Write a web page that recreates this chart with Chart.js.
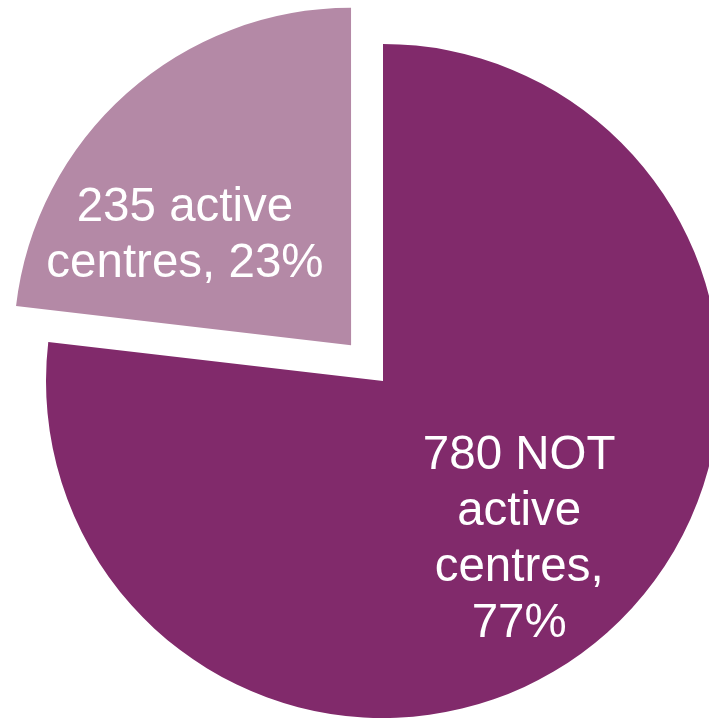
<!DOCTYPE html>
<html>
<head>
<meta charset="utf-8">
<script src="https://cdn.jsdelivr.net/npm/chart.js@4"></script>
<style>
  html, body { margin: 0; padding: 0; background: #fff; overflow: hidden; }
  canvas { display: block; }
</style>
</head>
<body>
<canvas id="pieChart" width="766" height="762"></canvas>
<script>
var categories = ['NOT active centres', 'active centres'];
var centreCounts = [780, 235];
var sliceColors = ['#812a6b', '#b489a6'];

var total = centreCounts.reduce(function (a, b) { return a + b; }, 0);

// draws the text inside each slice, wrapped to a max width
var sliceLabels = {
    id: 'sliceLabels',
    afterDatasetsDraw: function (chart, args, opts) {
        var ctx = chart.ctx;
        var meta = chart.getDatasetMeta(0);
        ctx.save();
        ctx.font = opts.size + 'px "Liberation Sans", Arial, sans-serif';
        ctx.fillStyle = '#fff';
        ctx.textAlign = 'center';
        ctx.textBaseline = 'middle';
        meta.data.forEach(function (arc, i) {
            var pct = Math.round(centreCounts[i] / total * 100);
            var words = (centreCounts[i] + ' ' + categories[i] + ', ' + pct + '%').split(' ');
            var lines = [], line = '';
            words.forEach(function (w) {
                var test = line ? line + ' ' + w : w;
                if (line && ctx.measureText(test).width > opts.maxWidth[i]) {
                    lines.push(line);
                    line = w;
                } else {
                    line = test;
                }
            });
            lines.push(line);

            var half = (arc.startAngle + arc.endAngle) / 2;
            var push = (arc.options.offset || 0) / 4;
            var a = half + opts.angleShift[i] * Math.PI / 180;
            var r = arc.outerRadius * opts.radius[i];
            var cx = arc.x + Math.cos(half) * push + Math.cos(a) * r;
            var cy = arc.y + Math.sin(half) * push + Math.sin(a) * r;
            var top = cy - (lines.length - 1) * opts.lineHeight / 2;
            lines.forEach(function (l, k) {
                ctx.fillText(l, cx, top + k * opts.lineHeight);
            });
        });
        ctx.restore();
    }
};

var ctx = document.getElementById('pieChart').getContext('2d');
var myChart = new Chart(ctx, {
    type: 'pie',
    data: {
        labels: categories,
        datasets: [{
            data: centreCounts,
            backgroundColor: sliceColors,
            borderWidth: 0,
            offset: [0, 192],
            hoverOffset: 0
        }]
    },
    options: {
        responsive: false,
        animation: false,
        events: [],
        radius: 337,
        layout: { padding: 0 },
        plugins: {
            legend: { display: false },
            tooltip: { enabled: false },
            sliceLabels: {
                size: 47.5,
                lineHeight: 56,
                maxWidth: [205, 290],
                radius: [0.62, 0.59],
                angleShift: [1, -15]
            }
        }
    },
    plugins: [sliceLabels]
});
</script>
</body>
</html>
